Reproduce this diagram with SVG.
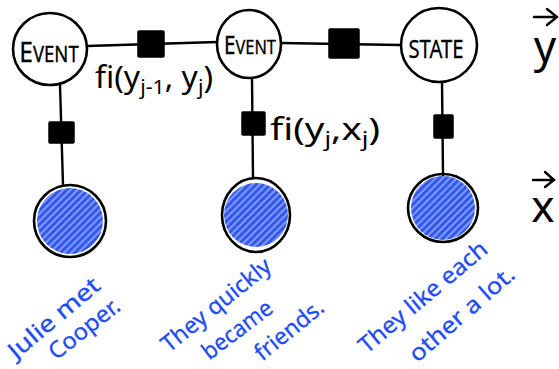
<svg xmlns="http://www.w3.org/2000/svg" width="559" height="369" viewBox="0 0 559 369">
<style>
.node{fill:#fff;stroke:#000;stroke-width:2.6}
.obs{fill:none;stroke:#000;stroke-width:2.6}
.edge{fill:none;stroke:#000;stroke-width:2.4;stroke-linecap:round}
.fac{fill:#000;stroke:#000;stroke-width:1.5;stroke-linejoin:round}
.lbl{font-family:"Noto Sans","DejaVu Sans",sans-serif;fill:#000}
.cap{font-family:"Noto Sans","DejaVu Sans",sans-serif;fill:#000;stroke:#000;stroke-width:0.3}
.hand{font-family:"Noto Sans","DejaVu Sans",sans-serif;font-size:23px;fill:#1f4cf5;stroke:#1f4cf5;stroke-width:0.3}
</style>
<defs>
<pattern id="hatch" patternUnits="userSpaceOnUse" width="5" height="5" patternTransform="rotate(-45)">
<rect width="5" height="5" fill="#8aa0f6"/>
<rect width="5" height="3.2" fill="#3258ec"/>
</pattern>
</defs>
<g id="connectors">
<path class="edge" d="M87 46 L217 42"/>
<path class="edge" d="M281 43 L400 45"/>
<path class="edge" d="M60 85 L63 185"/>
<path class="edge" d="M252 79 L253 178"/>
<path class="edge" d="M442 82 L443 175"/>
</g>
<g id="factor-y1-y2"><rect class="fac" x="138" y="31" width="26" height="26" rx="1"/></g>
<g id="factor-y2-y3"><rect class="fac" x="329" y="29" width="30" height="29" rx="1"/></g>
<g id="factor-y1-x1"><rect class="fac" x="49" y="122" width="25" height="21" rx="1"/></g>
<g id="factor-y2-x2"><rect class="fac" x="242" y="112" width="23" height="23" rx="1"/></g>
<g id="factor-y3-x3"><rect class="fac" x="434" y="115" width="19" height="23" rx="1"/></g>
<g id="node-event-1">
<ellipse class="node" cx="50" cy="49" rx="37" ry="36"/>
<text class="cap" transform="translate(49 62) scale(0.88 1)" text-anchor="middle"><tspan font-size="28">E</tspan><tspan font-size="21">VENT</tspan></text>
</g>
<g id="node-event-2">
<ellipse class="node" cx="249" cy="44" rx="32" ry="34"/>
<text class="cap" transform="translate(250 54) scale(0.82 1)" text-anchor="middle"><tspan font-size="25">E</tspan><tspan font-size="20">VENT</tspan></text>
</g>
<g id="node-state">
<ellipse class="node" cx="439" cy="45" rx="38" ry="37"/>
<text class="cap" transform="translate(436 58) scale(0.78 1)" text-anchor="middle" font-size="26">STATE</text>
</g>
<g id="obs-1">
<circle cx="70" cy="221" r="33" fill="url(#hatch)"/>
<ellipse class="obs" cx="70" cy="221" rx="36" ry="36"/>
</g>
<g id="obs-2">
<circle cx="256" cy="215" r="32" fill="url(#hatch)"/>
<ellipse class="obs" cx="256" cy="215" rx="34" ry="37"/>
</g>
<g id="obs-3">
<circle cx="443" cy="208" r="32" fill="url(#hatch)"/>
<ellipse class="obs" cx="443" cy="208" rx="35" ry="34"/>
</g>
<g id="labels">
<text class="lbl" x="95" y="88" font-size="30" textLength="118" lengthAdjust="spacingAndGlyphs">fi(y<tspan font-size="20" dy="6">j-1</tspan><tspan dy="-6">, y</tspan><tspan font-size="20" dy="6">j</tspan><tspan dy="-6">)</tspan></text>
<text class="lbl" x="270" y="140" font-size="30" textLength="110" lengthAdjust="spacingAndGlyphs">fi(y<tspan font-size="20" dy="6">j</tspan><tspan dy="-6">,x</tspan><tspan font-size="20" dy="6">j</tspan><tspan dy="-6">)</tspan></text>
<text class="lbl" x="545" y="62" font-size="44" text-anchor="middle">y</text>
<path class="edge" d="M534 17 L557 17 M547 9 L557 17 L547 25"/>
<text class="lbl" x="543" y="222" font-size="44" text-anchor="middle">x</text>
<path class="edge" d="M533 180 L554 180 M545 172 L554 180 L545 187"/>
</g>
<g id="sentences">
<text class="hand" transform="translate(59 324) rotate(-40)" text-anchor="middle" textLength="112" lengthAdjust="spacingAndGlyphs">Julie met</text>
<text class="hand" transform="translate(89 335) rotate(-38)" text-anchor="middle" textLength="84" lengthAdjust="spacingAndGlyphs">Cooper.</text>
<text class="hand" transform="translate(221 311) rotate(-39)" text-anchor="middle" textLength="134" lengthAdjust="spacingAndGlyphs">They quickly</text>
<text class="hand" transform="translate(242 336) rotate(-37)" text-anchor="middle" textLength="82" lengthAdjust="spacingAndGlyphs">became</text>
<text class="hand" transform="translate(294 336) rotate(-39)" text-anchor="middle" textLength="82" lengthAdjust="spacingAndGlyphs">friends.</text>
<text class="hand" transform="translate(428 303) rotate(-40)" text-anchor="middle" textLength="160" lengthAdjust="spacingAndGlyphs">They like each</text>
<text class="hand" transform="translate(467 320) rotate(-41)" text-anchor="middle" textLength="132" lengthAdjust="spacingAndGlyphs">other a lot.</text>
</g>
</svg>
